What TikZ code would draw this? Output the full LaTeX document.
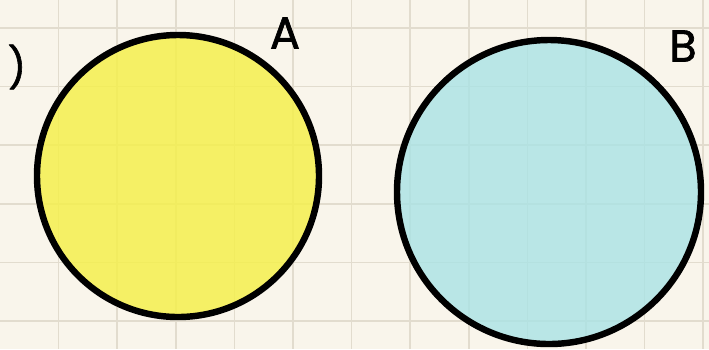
\documentclass[tikz,border=0pt]{standalone}
\usepackage{fontspec}
\setmainfont{Poppins}
\newfontfamily\handfont{Poppins}[FakeBold=1.5]
\definecolor{paper}{RGB}{249,245,235}
\definecolor{gridline}{RGB}{226,220,206}
\definecolor{setyellow}{RGB}{245,240,72}
\definecolor{setcyan}{RGB}{171,227,229}
\begin{document}
\begin{tikzpicture}[
            x=0.3mm, y=-0.3mm,
            setcircle/.style={circle, draw=black, line width=5.5pt, fill opacity=0.82, draw opacity=1, inner sep=0pt},
            setlabel/.style={font=\handfont\fontsize{38}{38}\selectfont, inner sep=0pt},
            paperline/.style={gridline, line width=1.4pt}
        ]
            \fill[paper] (0,0) rectangle (709,349);
            \useasboundingbox (0,0) rectangle (709,349);

            \foreach \k in {1,...,12} {
                \draw[paperline] (58.6*\k,0) -- (58.6*\k,349);
            }
            \foreach \k in {0,...,5} {
                \draw[paperline] (0,28+58.6*\k) -- (709,28+58.6*\k);
            }

            \node[setcircle, fill=setyellow, minimum size=84.6mm] (setA) at (178,176) {};
            \node[setcircle, fill=setcyan, minimum size=91.2mm] (setB) at (549,192) {};

            \node[setlabel] (labelA) at (285,33) {A};
            \node[setlabel] (labelB) at (683,46) {B};
            \node[setlabel, font=\handfont\fontsize{34}{34}\selectfont] (cut) at (17,67) {)};

        \end{tikzpicture}
\end{document}
